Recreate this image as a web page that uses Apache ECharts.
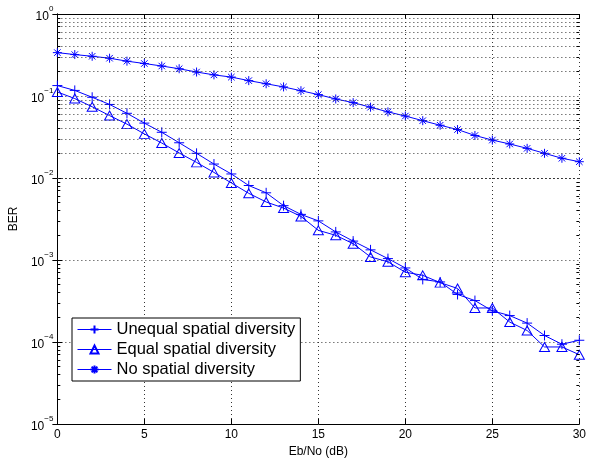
<!DOCTYPE html>
<html>
<head>
<meta charset="utf-8">
<script src="https://cdn.jsdelivr.net/npm/echarts@6/dist/echarts.min.js"></script>
<style>
  html, body { margin: 0; padding: 0; background: #fff; }
  #chart { width: 589px; height: 463px; }
</style>
</head>
<body>
<div id="chart"></div>
<script>
const ebno = [0, 1, 2, 3, 4, 5, 6, 7, 8, 9, 10, 11, 12, 13, 14, 15, 16, 17, 18, 19, 20, 21, 22, 23, 24, 25, 26, 27, 28, 29, 30]

const unequalBer = [0.134, 0.117, 0.0965, 0.0789, 0.0615, 0.0467, 0.0361, 0.0269, 0.0200, 0.0148,
  0.0112, 0.0081, 0.0066, 0.0046, 0.0036, 0.0030, 0.0022, 0.0017, 0.00133, 0.00104,
  0.00080, 0.00058, 0.00054, 0.00038, 0.00032, 0.00024, 0.00021, 0.00017, 0.00012, 0.000094, 0.000105]

const equalBer = [0.112, 0.093, 0.074, 0.0577, 0.0454, 0.0345, 0.0267, 0.0202, 0.0155, 0.0117,
  0.0087, 0.0065, 0.0051, 0.0043, 0.0034, 0.0023, 0.0020, 0.00158, 0.00109, 0.00095,
  0.00071, 0.00065, 0.00053, 0.00045, 0.00026, 0.00026, 0.000175, 0.000138, 0.000087, 0.000087, 0.00007]

const noDivBer = [0.338, 0.320, 0.305, 0.289, 0.266, 0.249, 0.232, 0.215, 0.196, 0.181,
  0.170, 0.154, 0.141, 0.129, 0.116, 0.104, 0.092, 0.083, 0.073, 0.064,
  0.057, 0.050, 0.044, 0.039, 0.033, 0.029, 0.026, 0.023, 0.020, 0.0174, 0.0158]

const seriesNames = ['Unequal spatial diversity', 'Equal spatial diversity', 'No spatial diversity']
const decades = [1e-5, 1e-4, 1e-3, 1e-2, 1e-1]
const minorSteps = [2, 3, 4, 5, 6, 7, 8, 9]

const BLUE = '#0000ff'
const FONT = 'Liberation Sans, Arial, Helvetica, sans-serif'
const GRID_DASH = [1, 3]

// minor grid lines / ticks at 2..9 of every decade
const minorValues = []
decades.forEach(d => minorSteps.forEach(k => minorValues.push(+(d * k).toPrecision(3))))

const minorGrid = minorValues.map(v => ({ yAxis: v }))
const minorTicks = []
minorValues.forEach(v => {
  minorTicks.push([{ coord: [0, v] }, { coord: [0.17, v] }])
  minorTicks.push([{ coord: [29.83, v] }, { coord: [30, v] }])
})

const toPairs = arr => ebno.map((x, i) => [x, arr[i]])

const plusSymbol = 'path://M0,-5L0,5M-5,0L5,0'
const starSymbol = 'path://M0,-5L0,5M-5,0L5,0M-3.6,-3.6L3.6,3.6M-3.6,3.6L3.6,-3.6'

const chart = echarts.init(document.getElementById('chart'))

const logLabel = v => {
  const e = Math.round(Math.log10(v))
  return '{b|10}{s|' + (e === 0 ? '0' : '\u2212' + Math.abs(e)) + '}'
}

const option = {
  backgroundColor: '#fff',
  animation: false,
  textStyle: { fontFamily: FONT },
  grid: { left: 52, right: 7, top: 14, bottom: 32, containLabel: false },
  legend: {
    data: seriesNames,
    orient: 'vertical',
    left: 72,
    top: 318,
    backgroundColor: '#fff',
    borderColor: '#000',
    borderWidth: 1,
    borderRadius: 0,
    padding: [3, 5, 3, 5],
    itemWidth: 34,
    itemHeight: 10,
    itemGap: 3,
    lineStyle: { width: 1 },
    textStyle: { fontFamily: FONT, fontSize: 16.5, color: '#000' }
  },
  xAxis: [
    {
      type: 'value',
      min: 0,
      max: 30,
      interval: 5,
      name: 'Eb/No (dB)',
      nameLocation: 'middle',
      nameGap: 22,
      nameTextStyle: { fontFamily: FONT, fontSize: 12, color: '#000' },
      axisLine: { lineStyle: { color: '#000', width: 1 } },
      axisTick: { inside: true, length: 5, lineStyle: { color: '#000' } },
      axisLabel: { color: '#000', fontSize: 12, margin: 5, fontFamily: FONT },
      splitLine: { show: true, lineStyle: { color: '#333', type: GRID_DASH, width: 1 } }
    },
    {
      type: 'value',
      position: 'top',
      min: 0,
      max: 30,
      interval: 5,
      axisLine: { show: true, lineStyle: { color: '#000', width: 1 } },
      axisTick: { show: true, inside: true, length: 5, lineStyle: { color: '#000' } },
      axisLabel: { show: false },
      splitLine: { show: false }
    }
  ],
  yAxis: [
    {
      type: 'log',
      logBase: 10,
      min: 1e-5,
      max: 1,
      interval: 1,
      name: 'BER',
      nameLocation: 'middle',
      nameGap: 32,
      nameTextStyle: { fontFamily: FONT, fontSize: 12, color: '#000' },
      axisLine: { show: true, lineStyle: { color: '#000', width: 1 } },
      axisTick: { show: true, inside: true, length: 5, lineStyle: { color: '#000' } },
      axisLabel: {
        color: '#000',
        margin: 4,
        formatter: logLabel,
        rich: {
          b: { fontSize: 12, fontFamily: FONT, color: '#000', lineHeight: 18, verticalAlign: 'bottom' },
          s: { fontSize: 8, fontFamily: FONT, color: '#000', lineHeight: 18, verticalAlign: 'top' }
        }
      },
      splitLine: { show: true, lineStyle: { color: '#333', type: GRID_DASH, width: 1 } }
    },
    {
      type: 'log',
      logBase: 10,
      position: 'right',
      min: 1e-5,
      max: 1,
      interval: 1,
      axisLine: { show: true, lineStyle: { color: '#000', width: 1 } },
      axisTick: { show: true, inside: true, length: 5, lineStyle: { color: '#000' } },
      axisLabel: { show: false },
      splitLine: { show: false }
    }
  ],
  series: [
    {
      name: 'grid',
      type: 'line',
      data: [],
      z: 1,
      silent: true,
      markLine: {
        silent: true,
        symbol: 'none',
        label: { show: false },
        animation: false,
        lineStyle: { color: '#333', type: GRID_DASH, width: 1 },
        emphasis: { disabled: true },
        data: minorGrid
      }
    },
    {
      name: 'ticks',
      type: 'line',
      data: [],
      z: 1,
      silent: true,
      markLine: {
        silent: true,
        symbol: 'none',
        label: { show: false },
        animation: false,
        lineStyle: { color: '#000', type: 'solid', width: 1 },
        emphasis: { disabled: true },
        data: minorTicks
      }
    },
    {
      name: seriesNames[0],
      type: 'line',
      z: 3,
      data: toPairs(unequalBer),
      symbol: plusSymbol,
      symbolSize: 10,
      color: BLUE,
      lineStyle: { color: BLUE, width: 1 },
      itemStyle: { color: BLUE, borderColor: BLUE, borderWidth: 1 }
    },
    {
      name: seriesNames[1],
      type: 'line',
      z: 3,
      data: toPairs(equalBer),
      symbol: 'path://M0,-4.5L5,4.5L-5,4.5Z',
      symbolSize: [10, 9],
      color: BLUE,
      lineStyle: { color: BLUE, width: 1 },
      itemStyle: { color: 'none', borderColor: BLUE, borderWidth: 1 }
    },
    {
      name: seriesNames[2],
      type: 'line',
      z: 3,
      data: toPairs(noDivBer),
      symbol: starSymbol,
      symbolSize: 9,
      color: BLUE,
      lineStyle: { color: BLUE, width: 1 },
      itemStyle: { color: BLUE, borderColor: BLUE, borderWidth: 1 }
    }
  ]
}

chart.setOption(option)
</script>
</body>
</html>
